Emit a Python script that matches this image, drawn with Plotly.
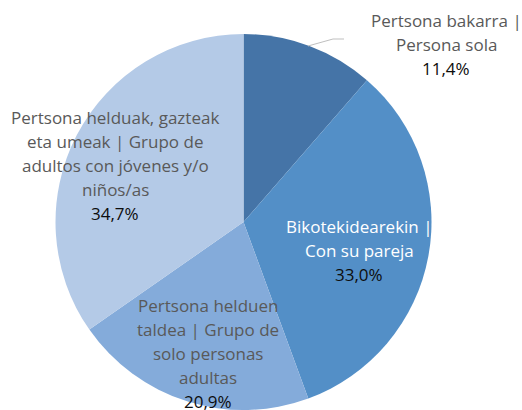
import plotly.graph_objects as go

# ---- data ----
categories = [
    "Pertsona bakarra | Persona sola",
    "Bikotekidearekin | Con su pareja",
    "Pertsona helduen taldea | Grupo de solo personas adultas",
    "Pertsona helduak, gazteak eta umeak | Grupo de adultos con jóvenes y/o niños/as",
]
values = [11.4, 33.0, 20.9, 34.7]
value_labels = ["11,4%", "33,0%", "20,9%", "34,7%"]
label_lines = [
    ["Pertsona bakarra |", "Persona sola"],
    ["Bikotekidearekin |", "Con su pareja"],
    ["Pertsona helduen", "taldea | Grupo de", "solo personas", "adultas"],
    ["Pertsona helduak, gazteak", "eta umeak | Grupo de", "adultos con jóvenes y/o", "niños/as"],
]

# ---- styling ----
W, H = 522, 410
colors = ["#4574a7", "#538fc7", "#84abda", "#b4cae7"]
name_colors = ["#595959", "#ffffff", "#595959", "#595959"]
# label block anchor (pixel x, pixel y of first line center)
label_pos = [(446, 20), (359, 226), (208, 305), (115, 117)]
line_step = 24.2
FONT = "Open Sans, Lato, sans-serif"

cx, cy, R = 243.5, 222, 188

fig = go.Figure(go.Pie(
    labels=categories,
    values=values,
    sort=False,
    direction="clockwise",
    rotation=0,
    marker=dict(colors=colors, line=dict(width=0)),
    textinfo="none",
    hoverinfo="label+percent",
    showlegend=False,
    domain=dict(x=[(cx - R) / W, (cx + R) / W], y=[0, (H - (cy - R)) / H]),
))

annotations = []
for i, lines in enumerate(label_lines):
    px, py = label_pos[i]
    for j, ln in enumerate(lines + [value_labels[i]]):
        is_val = j == len(lines)
        annotations.append(dict(
            x=px / W, y=1 - (py + j * line_step) / H,
            xref="paper", yref="paper",
            text=ln, showarrow=False,
            xanchor="center", yanchor="middle",
            font=dict(family=FONT, size=17,
                      color="#0d0d0d" if is_val else name_colors[i]),
        ))

# leader line for the outside label
fig.add_shape(type="path",
              path=f"M {308/W} {1-46/H} L {333/W} {1-39/H} L {344/W} {1-39/H}",
              xref="paper", yref="paper",
              line=dict(color="#bfbfbf", width=1))

fig.update_layout(
    width=W, height=H,
    margin=dict(l=0, r=0, t=0, b=0),
    paper_bgcolor="white", plot_bgcolor="white",
    annotations=annotations,
    font=dict(family=FONT),
)

fig.write_html("out.html",
               config={"displayModeBar": False},
               post_script="document.body.style.margin='0';document.body.style.overflow='hidden';")
